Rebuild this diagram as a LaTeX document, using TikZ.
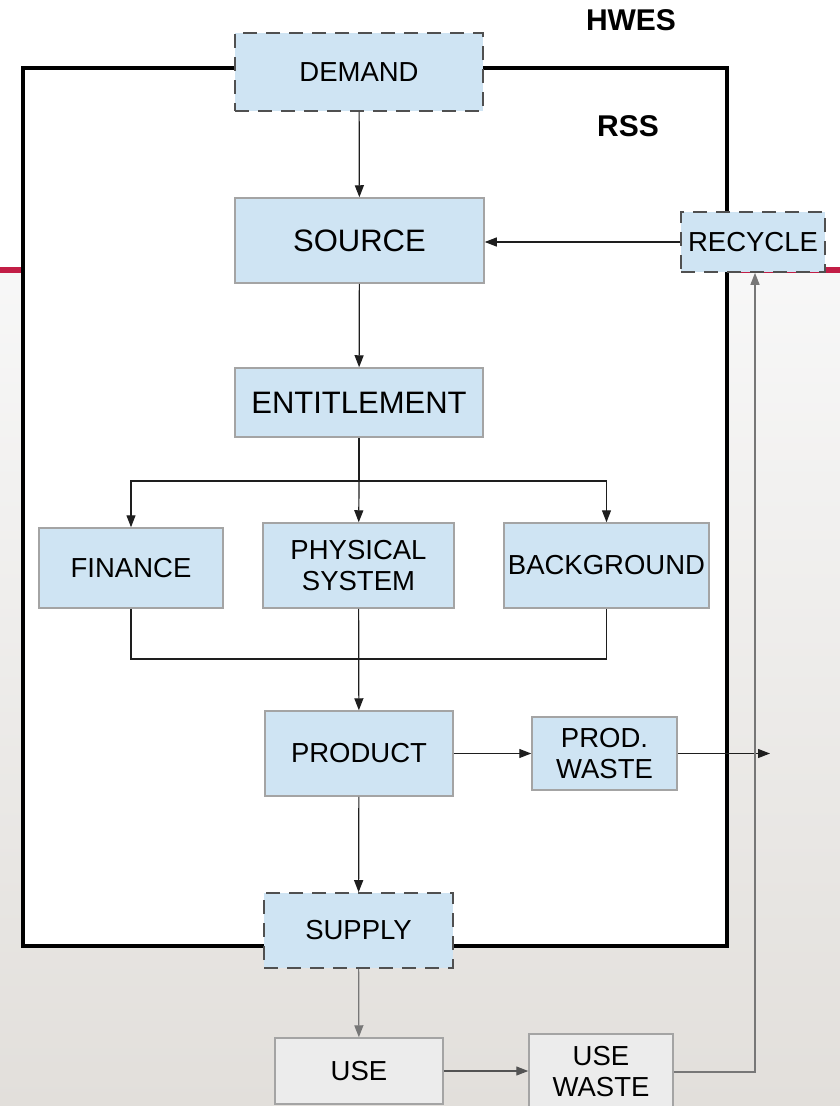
\documentclass[tikz,border=0pt]{standalone}
\usepackage{fontspec}
\setmainfont{Liberation Sans}
\usetikzlibrary{arrows.meta,positioning}
\definecolor{boxblue}{HTML}{CFE4F3}
\definecolor{boxgrey}{HTML}{ECECEC}
\definecolor{edgegrey}{HTML}{A4A4A4}
\definecolor{dashgrey}{HTML}{505050}
\definecolor{slidered}{HTML}{C21E46}
\definecolor{bgbottom}{HTML}{E2DFDB}
\definecolor{lineblack}{HTML}{1E1E1E}
\definecolor{linegrey}{HTML}{777777}
\tikzset{
  lbl/.style={font=\fontsize{27.5}{31}\selectfont, align=center, inner sep=0pt},
  bluebox/.style={lbl, rectangle, fill=boxblue, draw=edgegrey, line width=1.5pt},
  dashbox/.style={lbl, rectangle, fill=boxblue, draw=dashgrey, line width=1.6pt, dash pattern=on 14pt off 9pt},
  greybox/.style={lbl, rectangle, fill=boxgrey, draw=edgegrey, line width=1.5pt},
  conn/.style={draw=lineblack, line width=1.2pt},
  arr/.style={conn, -{Triangle[length=12pt,width=9pt]}},
  garr/.style={draw=linegrey, line width=1.2pt, -{Triangle[length=12pt,width=9pt]}},
  title/.style={font=\bfseries\fontsize{30}{32}\selectfont, inner sep=0pt}
}
\begin{document}
\begin{tikzpicture}[x=1pt,y=-1pt]
\useasboundingbox (0,0) rectangle (840,1106);
% slide background
\fill[white] (0,0) rectangle (840,270);
\shade[top color=white!97!black, bottom color=bgbottom] (0,270) rectangle (840,1106);
\fill[slidered] (0,266.5) rectangle (840,273);
% RSS boundary
\draw[fill=white, line width=4pt, line join=miter] (23,68) rectangle (727,946);
\node[title] (hwes) at (631,20) {HWES};
\node[title] (rss) at (628,126) {RSS};
% nodes
\node[dashbox, minimum width=248pt, minimum height=78pt] (demand) at (359,72) {DEMAND};
\node[bluebox, minimum width=249pt, minimum height=85pt, font=\fontsize{31}{33}\selectfont] (source) at (359.5,240.5) {SOURCE};
\node[dashbox, minimum width=144pt, minimum height=60pt] (recycle) at (753,242) {RECYCLE};
\node[bluebox, minimum width=248pt, minimum height=69pt, font=\fontsize{31}{33}\selectfont] (entitlement) at (359,402.5) {ENTITLEMENT};
\node[bluebox, minimum width=184pt, minimum height=80pt] (finance) at (131,568) {FINANCE};
\node[bluebox, minimum width=191pt, minimum height=85pt] (physical) at (358.5,565.5) {PHYSICAL\\SYSTEM};
\node[bluebox, minimum width=205pt, minimum height=85pt] (background) at (606.5,565.5) {BACKGROUND};
\node[bluebox, minimum width=188pt, minimum height=85pt] (product) at (359,753.5) {PRODUCT};
\node[bluebox, minimum width=145pt, minimum height=73pt] (prodwaste) at (604.5,753.5) {PROD.\\WASTE};
\node[dashbox, minimum width=189pt, minimum height=75pt] (supply) at (358.5,930.5) {SUPPLY};
\node[greybox, minimum width=168pt, minimum height=66pt] (use) at (359,1071) {USE};
\node[greybox, minimum width=144pt, minimum height=76pt] (usewaste) at (601,1072) {USE\\WASTE};
% coordinates
\coordinate (split) at (359,481);
\coordinate (merge) at (358,659);
\coordinate (pwout) at (770,753.5);
% connectors
\draw[arr] (demand) -- (source);
\draw[arr] (recycle.west) -- (recycle.west -| source.east);
\draw[arr] (source) -- (entitlement);
\draw[conn] (entitlement) -- (split);
\draw[arr] (split) -| (finance.north);
\draw[arr] (split) -| (background.north);
\draw[arr] (split) -- (physical);
\draw[conn] (finance.south) |- (merge);
\draw[conn] (background.south) |- (merge);
\draw[arr] (physical) -- (product);
\draw[arr] (product) -- (prodwaste);
\draw[arr] (prodwaste) -- (pwout);
\draw[arr] (product) -- (supply);
\draw[garr] (supply) -- (use);
\draw[arr, draw=linegrey!70!black] (use.east) -- (usewaste.west |- use.east);
\draw[garr] (usewaste.east) -| ([xshift=2pt]recycle.south);
\end{tikzpicture}
\end{document}
